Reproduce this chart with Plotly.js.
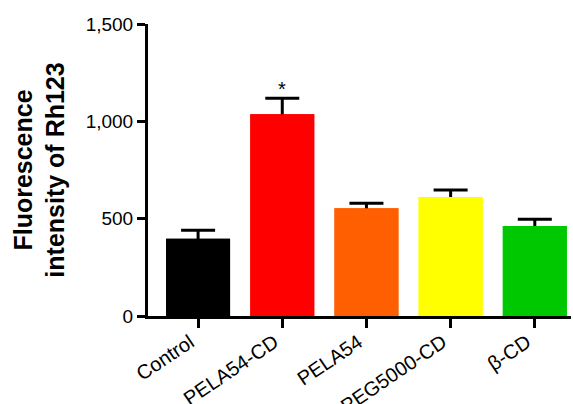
<!DOCTYPE html>
<html>
<head>
<meta charset="utf-8">
<script src="https://cdn.plot.ly/plotly-3.0.1.min.js"></script>
<style>html,body{margin:0;padding:0;background:#fff;}#chart{width:573px;height:404px;}</style>
</head>
<body>
<div id="chart"></div>
<script>
const categories = ["Control", "PELA54-CD", "PELA54", "PEG5000-CD", "β-CD"];
const meanValues = [397, 1036, 553, 611, 462];
const errorValues = [43, 82, 26, 36, 35];
const barColors = ["#000000", "#ff0000", "#ff5f00", "#ffff00", "#00c800"];
const significance = ["", "*", "", "", ""];
const yTickValues = [0, 500, 1000, 1500];

// Trace with error bars (lower half hidden under the covering bars below)
const errTrace = {
  type: "bar",
  x: categories,
  y: meanValues,
  width: 0.76,
  marker: {color: barColors, line: {width: 0}},
  error_y: {
    type: "data",
    array: errorValues,
    color: "#000000",
    thickness: 3,
    width: 17
  },
  hoverinfo: "skip"
};
const barTrace = {
  type: "bar",
  x: categories,
  y: meanValues,
  width: 0.76,
  marker: {color: barColors, line: {width: 0}},
  hoverinfo: "skip"
};

const annotations = [];
categories.forEach((c, i) => {
  if (significance[i]) {
    annotations.push({
      x: c, y: meanValues[i] + errorValues[i],
      xref: "x", yref: "y",
      text: significance[i],
      showarrow: false,
      yanchor: "bottom",
      yshift: -4,
      font: {family: "Liberation Sans, Arial, sans-serif", size: 20, color: "#000"}
    });
  }
});

const layout = {
  width: 573, height: 404,
  margin: {l: 148, r: 2, t: 24, b: 88},
  paper_bgcolor: "#ffffff",
  plot_bgcolor: "#ffffff",
  showlegend: false,
  barmode: "overlay",
  font: {family: "Liberation Sans, Arial, sans-serif", color: "#000"},
  xaxis: {
    type: "category",
    range: [-0.595, 4.43],
    showgrid: false,
    zeroline: false,
    showline: true,
    linecolor: "#000",
    linewidth: 3,
    ticks: "outside",
    ticklen: 9,
    tickwidth: 3,
    tickcolor: "#000",
    tickangle: -34,
    ticklabelstandoff: -5,
    ticklabelshift: -8,
    automargin: false,
    tickfont: {size: 20, color: "#000"}
  },
  yaxis: {
    range: [0, 1500],
    tickvals: yTickValues,
    tickformat: ",d",
    showgrid: false,
    zeroline: false,
    showline: true,
    linecolor: "#000",
    linewidth: 3,
    ticks: "outside",
    ticklen: 8,
    tickwidth: 3,
    tickcolor: "#000",
    automargin: false,
    tickfont: {size: 19, color: "#000"},
    title: {
      text: "<b>Fluorescence<br>intensity of Rh123</b>",
      font: {size: 25, color: "#000"},
      standoff: 14
    }
  },
  annotations: annotations
};

Plotly.newPlot("chart", [errTrace, barTrace], layout, {displayModeBar: false, staticPlot: true});
</script>
</body>
</html>
